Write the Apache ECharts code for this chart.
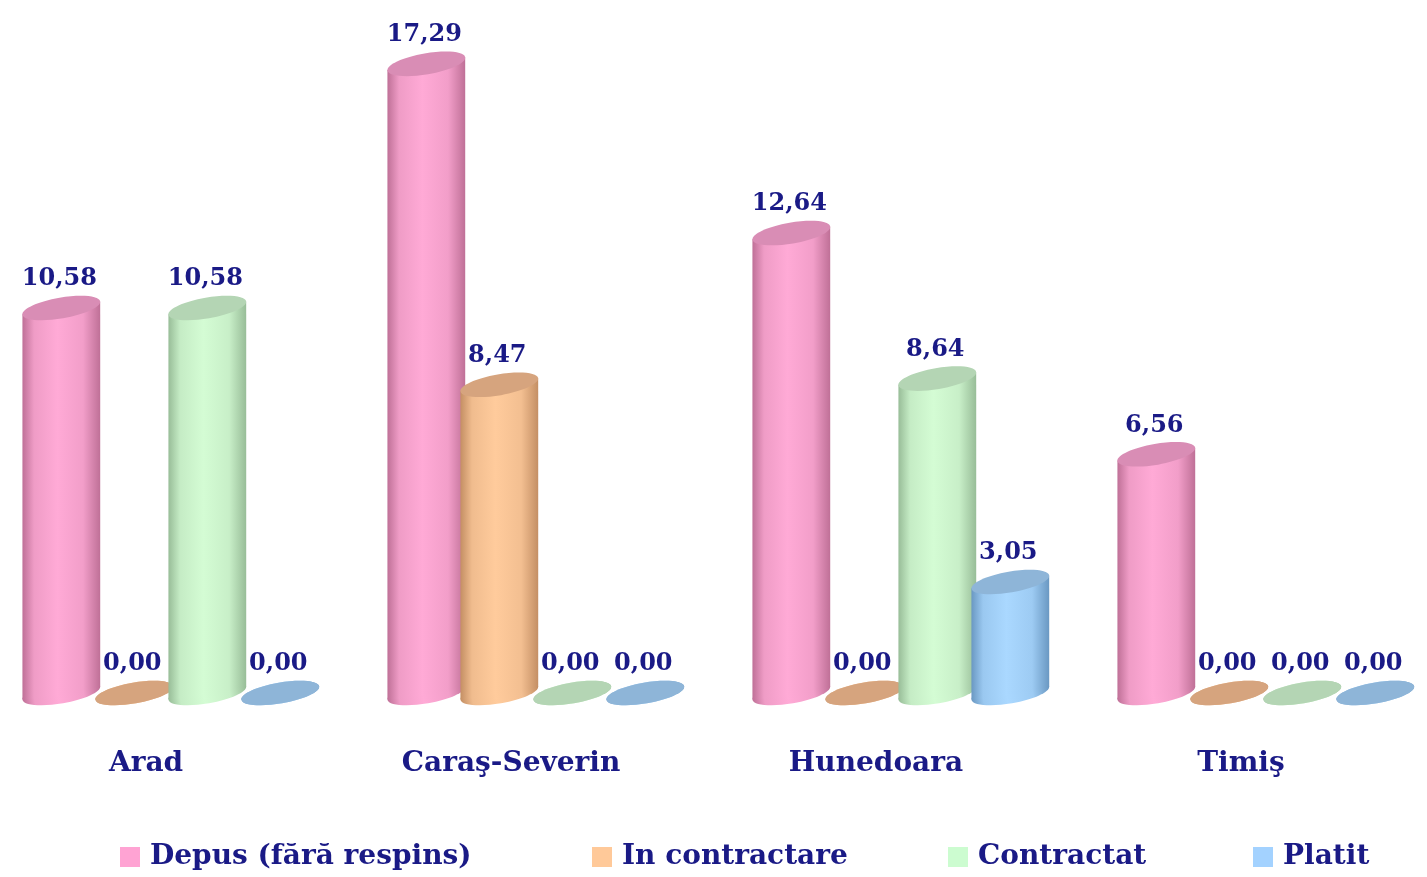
<!DOCTYPE html>
<html>
<head>
<meta charset="utf-8">
<title>Chart</title>
<script src="https://cdn.jsdelivr.net/npm/echarts@6/dist/echarts.min.js"></script>
<style>
  html, body { margin: 0; padding: 0; background: #fff; }
  #chart { width: 1427px; height: 877px; }
</style>
</head>
<body>
<div id="chart"></div>
<script>
const categories = ['Arad', 'Caraş-Severin', 'Hunedoara', 'Timiş'];
const seriesNames = ['Depus (fără respins)', 'In contractare', 'Contractat', 'Platit'];
const depus = [10.58, 17.29, 12.64, 6.56];
const inContractare = [0, 8.47, 0, 0];
const contractat = [10.58, 0, 8.64, 0];
const platit = [0, 0, 3.05, 0];
const seriesValues = [depus, inContractare, contractat, platit];

// legend colour, body middle, body edge, top face
const palette = [
  { legend: '#ffa3d3', mid: '#ffaad6', edge: '#bf7097', top: '#d98db5' },
  { legend: '#ffc999', mid: '#ffcb9c', edge: '#c48f64', top: '#d6a47e' },
  { legend: '#ccfcd0', mid: '#d4fcd4', edge: '#98bd98', top: '#b4d5b4' },
  { legend: '#a3d2ff', mid: '#aad8ff', edge: '#6a98c2', top: '#8eb5d8' }
];
const legendLeft = [120, 592, 948, 1253];

const navy = '#1a1a86';
const labelFont = 'DejaVu Serif';

function mix(a, b, t) {
  const pa = parseInt(a.slice(1), 16), pb = parseInt(b.slice(1), 16);
  const ch = s => [(s >> 16) & 255, (s >> 8) & 255, s & 255];
  const ca = ch(pa), cb = ch(pb);
  return 'rgb(' + ca.map((v, i) => Math.round(v + (cb[i] - v) * t)).join(',') + ')';
}

const TILT = 0.17;

function renderCylinder(params, api) {
  const i = params.seriesIndex;
  const c = palette[i];
  const cat = api.value(0);
  const val = api.value(1);
  const base = api.coord([cat, 0]);
  const top = api.coord([cat, val]);
  // distance between two categories
  const band = api.coord([1, 0])[0] - api.coord([0, 0])[0];
  const cx = base[0] + band * 0.068 + (i - 1.5) * band * 0.2;
  const a = band * 0.108;
  const b = 10.5;
  // extreme x point of the tilted ellipse
  const t0 = Math.atan(b * Math.tan(TILT) / a);
  const X0 = a * Math.cos(t0) * Math.cos(TILT) + b * Math.sin(t0) * Math.sin(TILT);
  const Y0 = -a * Math.cos(t0) * Math.sin(TILT) + b * Math.sin(t0) * Math.cos(TILT);
  const topY = top[1];
  const botY = base[1];

  const grad = new echarts.graphic.LinearGradient(0, 0, 1, 0, [
    { offset: 0, color: c.edge },
    { offset: 0.15, color: mix(c.edge, c.mid, 0.75) },
    { offset: 0.45, color: c.mid },
    { offset: 0.78, color: mix(c.edge, c.mid, 0.8) },
    { offset: 1, color: c.edge }
  ]);

  const children = [
    {
      type: 'ellipse',
      x: cx, y: botY, rotation: TILT,
      shape: { cx: 0, cy: 0, rx: a, ry: b },
      style: { fill: grad }
    }
  ];
  if (botY - topY > 0.5) {
    children.push({
      type: 'polygon',
      shape: {
        points: [
          [cx - X0, topY - Y0], [cx + X0, topY + Y0],
          [cx + X0, botY + Y0], [cx - X0, botY - Y0]
        ]
      },
      style: { fill: grad }
    });
  }
  children.push({
    type: 'ellipse',
    x: cx, y: topY, rotation: TILT,
    shape: { cx: 0, cy: 0, rx: a, ry: b },
    style: { fill: c.top }
  });
  children.push({
    type: 'text',
    style: {
      text: val.toFixed(2).replace('.', ','),
      x: cx - 2,
      y: topY - 29,
      align: 'center',
      verticalAlign: 'middle',
      fill: navy,
      font: 'bold 24px "' + labelFont + '"'
    }
  });
  return { type: 'group', children: children };
}

const chart = echarts.init(document.getElementById('chart'));

const option = {
  animation: false,
  backgroundColor: '#fff',
  grid: { left: 146, right: 186, top: 38, bottom: 184 },
  legend: seriesNames.map((name, i) => ({
    data: [name],
    left: legendLeft[i],
    top: 843,
    padding: 0,
    icon: 'rect',
    itemWidth: 20,
    itemHeight: 20,
    itemGap: 0,
    textStyle: {
      color: navy,
      fontFamily: labelFont,
      fontWeight: 'bold',
      fontSize: 28,
      padding: [0, 0, 0, 5]
    }
  })),
  xAxis: {
    type: 'category',
    data: categories,
    boundaryGap: false,
    axisLine: { show: false },
    axisTick: { show: false },
    axisLabel: {
      margin: 57,
      color: navy,
      fontFamily: labelFont,
      fontWeight: 'bold',
      fontSize: 28
    }
  },
  yAxis: {
    type: 'value',
    min: 0,
    max: 18,
    show: false,
    splitLine: { show: false }
  },
  series: seriesNames.map((name, i) => ({
    name: name,
    type: 'custom',
    clip: false,
    renderItem: renderCylinder,
    itemStyle: { color: palette[i].legend },
    encode: { x: 0, y: 1 },
    data: seriesValues[i].map((v, k) => [k, v])
  }))
};

chart.setOption(option);
</script>
</body>
</html>
